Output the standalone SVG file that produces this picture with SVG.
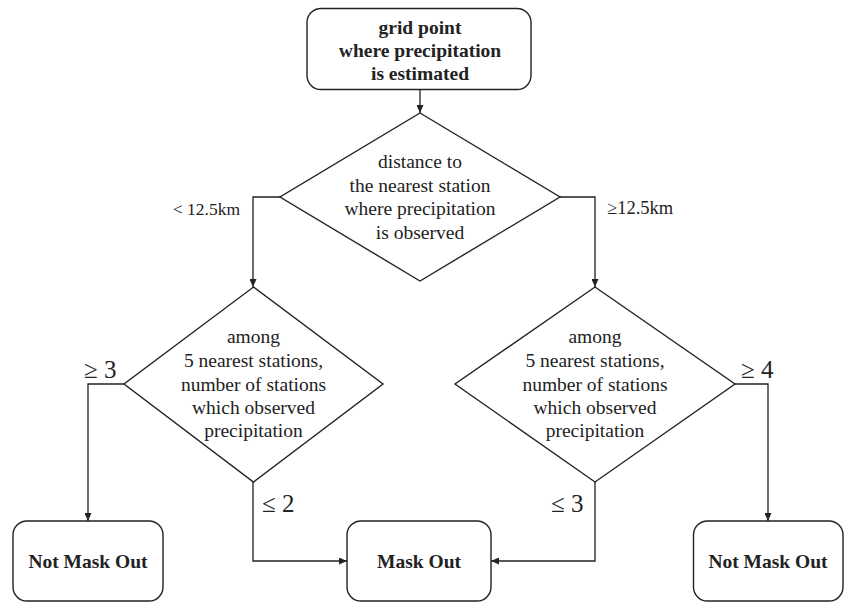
<svg xmlns="http://www.w3.org/2000/svg" width="845" height="603" viewBox="0 0 845 603">
<style>
.shape{fill:#fff;stroke:#222;stroke-width:1.4}
.conn{fill:none;stroke:#222;stroke-width:1.3}
text{font-family:"Liberation Serif","Times New Roman",serif;fill:#222;text-anchor:middle}
.b{font-weight:bold;font-size:19.5px}
.r{font-size:19.5px}
.lbl{font-size:25px;text-anchor:start}
.sl{font-size:17.5px}
</style>
<defs>
<marker id="ah" viewBox="0 0 8 7" refX="8" refY="3.5" markerWidth="8" markerHeight="7" markerUnits="userSpaceOnUse" orient="auto">
<path d="M0,0 L8,3.5 L0,7 z" fill="#222"/>
</marker>
</defs>
<g id="connectors">
<path class="conn" d="M420,89.5 V113" marker-end="url(#ah)"/>
<path class="conn" d="M280,197 H253 V287" marker-end="url(#ah)"/>
<path class="conn" d="M560,197 H595 V287" marker-end="url(#ah)"/>
<path class="conn" d="M124,384 H88 V521" marker-end="url(#ah)"/>
<path class="conn" d="M253,482 V561 H347" marker-end="url(#ah)"/>
<path class="conn" d="M595,482 V561 H491" marker-end="url(#ah)"/>
<path class="conn" d="M735,384 H768 V521" marker-end="url(#ah)"/>
<text class="sl" x="240" y="215" style="text-anchor:end">&lt; 12.5km</text>
<text class="sl" x="607" y="214" style="text-anchor:start;font-size:18.5px">≥12.5km</text>
<text class="lbl" x="84" y="378">≥ 3</text>
<text class="lbl" x="741" y="378">≥ 4</text>
<text class="lbl" x="262" y="512">≤ 2</text>
<text class="lbl" x="551" y="512">≤ 3</text>
</g>
<g id="start">
<rect class="shape" x="307" y="8.5" width="224" height="81" rx="14"/>
<text class="b" x="420" y="34">grid point</text>
<text class="b" x="420" y="57">where precipitation</text>
<text class="b" x="420" y="80">is estimated</text>
</g>
<g id="decision-distance">
<polygon class="shape" points="420,113 560,197 420,281 280,197"/>
<text class="r" x="420" y="168">distance to</text>
<text class="r" x="420" y="192">the nearest station</text>
<text class="r" x="420" y="215">where precipitation</text>
<text class="r" x="420" y="239">is observed</text>
</g>
<g id="decision-near">
<polygon class="shape" points="253.5,287 383,384 253.5,482 124,384"/>
<text class="r" x="253.5" y="343">among</text>
<text class="r" x="253.5" y="367">5 nearest stations,</text>
<text class="r" x="253.5" y="391">number of stations</text>
<text class="r" x="253.5" y="414">which observed</text>
<text class="r" x="253.5" y="437">precipitation</text>
</g>
<g id="decision-far">
<polygon class="shape" points="595,287 735,384 595,482 455,384"/>
<text class="r" x="595" y="343">among</text>
<text class="r" x="595" y="367">5 nearest stations,</text>
<text class="r" x="595" y="391">number of stations</text>
<text class="r" x="595" y="414">which observed</text>
<text class="r" x="595" y="437">precipitation</text>
</g>
<g id="not-mask-left">
<rect class="shape" x="13" y="521" width="150" height="80" rx="14"/>
<text class="b" x="88" y="568">Not Mask Out</text>
</g>
<g id="mask-out">
<rect class="shape" x="347" y="521" width="144" height="80" rx="14"/>
<text class="b" x="419" y="568">Mask Out</text>
</g>
<g id="not-mask-right">
<rect class="shape" x="693.5" y="521" width="149.5" height="80" rx="14"/>
<text class="b" x="768" y="568">Not Mask Out</text>
</g>
</svg>
